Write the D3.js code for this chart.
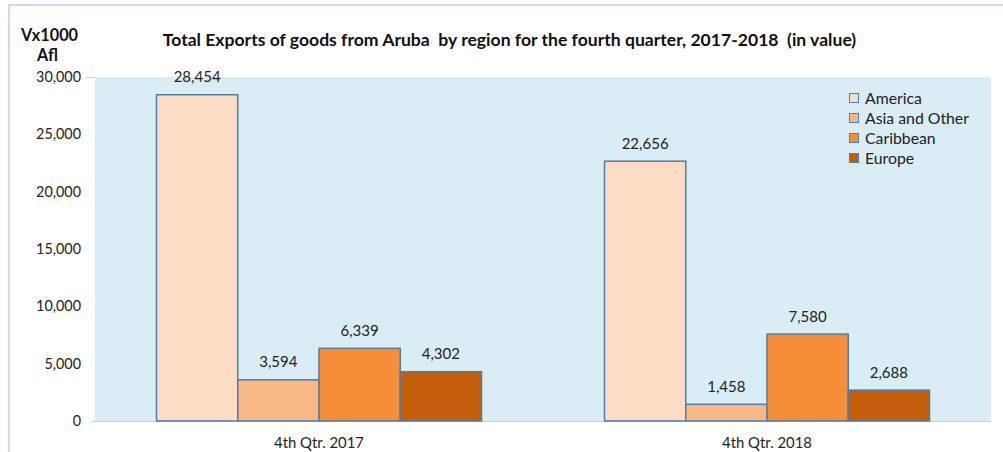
<!DOCTYPE html>
<html><head><meta charset="utf-8">
<script src="https://cdn.jsdelivr.net/npm/d3@7"></script>
<style>body{margin:0;background:#fff;} svg{display:block;}</style>
</head><body>
<svg id="c" width="1003" height="452"></svg>
<script>
const categories = ["4th Qtr. 2017", "4th Qtr. 2018"];
const seriesNames = ["America", "Asia and Other", "Caribbean", "Europe"];
const america = [28454, 22656];
const asiaOther = [3594, 1458];
const caribbean = [6339, 7580];
const europe = [4302, 2688];
const yTicks = [0, 5000, 10000, 15000, 20000, 25000, 30000];
const colors = ["#FCDCC4", "#F9B986", "#F68D38", "#C55E0A"];
const seriesValues = [america, asiaOther, caribbean, europe];

const svg = d3.select("#c");
const font = "Lato, 'Open Sans', sans-serif";
const L = 95, R = 991, T = 77, B = 421;

// scale a font size so that a sample string reaches a target width
function fitSize(sample, target, weight) {
  const t = svg.append("text").attr("font-family", font).attr("font-size", 20)
    .attr("font-weight", weight || "normal").text(sample);
  const w = t.node().getComputedTextLength();
  t.remove();
  return 20 * target / w;
}
const tickFs = fitSize("30,000", 45);
const labFs = fitSize("28,454", 47);
const xFs = fitSize("4th Qtr. 2017", 90);
const legFs = fitSize("Asia and Other", 104);
const unitFs = fitSize("Vx1000", 57, "bold");
const titleFs = fitSize("Total Exports of goods from Aruba  by region for the fourth quarter, 2017-2018  (in value)", 685, "bold");

// outer frame
svg.append("rect").attr("x", 9).attr("y", 5).attr("width", 1010).attr("height", 460)
  .attr("fill", "none").attr("stroke", "#A9C4DE").attr("stroke-width", 1.2);

// plot bg
svg.append("rect").attr("x", L).attr("y", T).attr("width", R - L).attr("height", B - T).attr("fill", "#DAEDF4");

const y = d3.scaleLinear().domain([0, 30000]).range([B, T]);
const x0 = d3.scaleBand().domain(categories).range([L, R]).paddingInner(0).paddingOuter(0);
const groupW = 325;
const x1 = d3.scaleBand().domain(seriesNames).range([0, groupW]).padding(0);

// y axis
const yAxis = d3.axisLeft(y).tickValues(yTicks).tickFormat(d3.format(",")).tickSize(0).tickPadding(14);
const ga = svg.append("g").attr("transform", `translate(${L},0)`).call(yAxis);
ga.select(".domain").remove();
ga.selectAll("text").attr("font-family", font).attr("font-size", tickFs).attr("fill", "#222");
ga.selectAll(".tick").filter(d => d === 30000).append("line").attr("x1", -9).attr("x2", 0).attr("stroke", "#BDD3E8");

// x axis line
svg.append("line").attr("x1", 91).attr("x2", R).attr("y1", B + 0.5).attr("y2", B + 0.5).attr("stroke", "#BDD3E8").attr("stroke-width", 1.2);

// bars
const groups = svg.selectAll("g.grp").data(categories).join("g").attr("class", "grp")
  .attr("transform", d => `translate(${x0(d) + (x0.bandwidth() - groupW) / 2},0)`);
groups.each(function(cat, ci) {
  const g = d3.select(this);
  seriesNames.forEach((s, si) => {
    const v = seriesValues[si][ci];
    g.append("rect").attr("x", x1(s)).attr("y", y(v)).attr("width", x1.bandwidth()).attr("height", B - y(v))
      .attr("fill", colors[si]).attr("stroke", "#4A7EB0").attr("stroke-width", 1.5);
    g.append("text").attr("x", x1(s) + x1.bandwidth() / 2).attr("y", y(v) - 12.5)
      .attr("text-anchor", "middle").attr("font-family", font).attr("font-size", labFs).attr("fill", "#222")
      .text(d3.format(",")(v));
  });
});

// x labels
svg.selectAll("text.xl").data(categories).join("text").attr("class", "xl")
  .attr("x", d => x0(d) + x0.bandwidth() / 2).attr("y", 448)
  .attr("text-anchor", "middle").attr("font-family", font).attr("font-size", xFs).attr("fill", "#222").text(d => d);

// title
svg.append("text").attr("x", 509.5).attr("y", 46).attr("text-anchor", "middle")
  .attr("font-family", font).attr("font-weight", "bold").attr("font-size", titleFs).attr("fill", "#111")
  .text("Total Exports of goods from Aruba  by region for the fourth quarter, 2017-2018  (in value)")
  .style("white-space", "pre");

// y unit label
svg.append("text").attr("x", 49.5).attr("y", 41).attr("text-anchor", "middle")
  .attr("font-family", font).attr("font-weight", "bold").attr("font-size", unitFs).attr("fill", "#111").text("Vx1000");
svg.append("text").attr("x", 47.5).attr("y", 61).attr("text-anchor", "middle")
  .attr("font-family", font).attr("font-weight", "bold").attr("font-size", unitFs).attr("fill", "#111").text("Afl");

// legend
const lg = svg.append("g").attr("transform", "translate(849,93)");
seriesNames.forEach((s, i) => {
  lg.append("rect").attr("x", 0.5).attr("y", i * 20 + 0.5).attr("width", 9).attr("height", 9)
    .attr("fill", colors[i]).attr("stroke", "#4A7EB0").attr("stroke-width", 1);
  lg.append("text").attr("x", 16).attr("y", i * 20 + 10.5).attr("font-family", font).attr("font-size", legFs)
    .attr("fill", "#222").text(s);
});
</script>
</body></html>
